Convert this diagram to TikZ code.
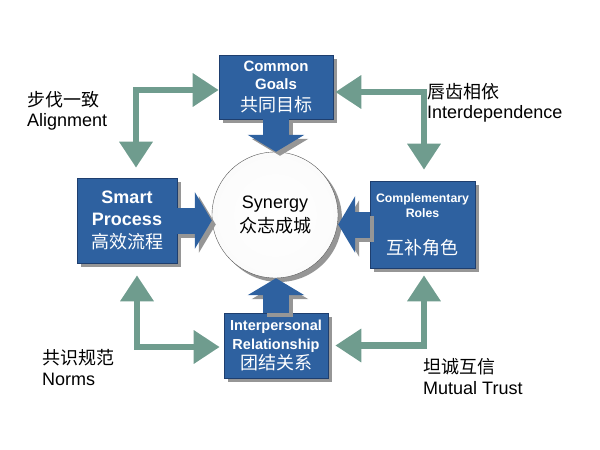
\documentclass[tikz,border=0pt]{standalone}
\usepackage{fontspec}
\setmainfont{Liberation Sans}
\newfontfamily\cjk{Noto Sans CJK SC}
\usetikzlibrary{arrows.meta, shadows}
\definecolor{boxblue}{RGB}{46,97,160}
\definecolor{boxline}{RGB}{30,62,110}
\definecolor{linkgreen}{RGB}{111,156,142}
\definecolor{shadowgray}{RGB}{150,150,150}
\tikzset{
  card/.style  = {draw=boxline, fill=boxblue, text=white, align=center,
                  inner sep=0pt, line width=0.6pt,
                  drop shadow={shadow xshift=4pt, shadow yshift=-4pt,
                               fill=shadowgray, opacity=1}},
  core/.style  = {circle, draw=gray!70!black, inner color=white, outer color=gray!3,
                  align=center, minimum size=126pt, inner sep=0pt,
                  font=\fontsize{18}{24}\selectfont,
                  drop shadow={shadow xshift=4pt, shadow yshift=-4pt,
                               fill=shadowgray, opacity=1}},
  note/.style  = {anchor=west, align=left, inner sep=0pt,
                  font=\fontsize{18}{20.5}\selectfont},
  feed/.style  = {line width=26pt, boxblue,
                  -{Triangle[length=17pt, width=56pt]}},
  feedshade/.style = {feed, shadowgray, transform canvas={shift={(4pt,-4pt)}}},
  link/.style  = {line width=6.5pt, linkgreen,
                  {Triangle[length=26pt, width=32pt]}-{Triangle[length=26pt, width=32pt]}},
}
\newcommand{\zh}[1]{{\fontsize{18}{20}\selectfont\cjk\mdseries #1}}

\begin{document}
\begin{tikzpicture}[x=1pt, y=-1pt]
  \useasboundingbox (0,0) rectangle (600,450);
  % centre
  \node[core] (syn) at (275,215) {Synergy\\\zh{众志成城}};
  % the four blocks
  \node[card, minimum width=114pt, minimum height=64pt,
        font=\fontsize{15}{18}\selectfont\bfseries] (goals) at (276,87)
        {Common\\Goals\\[4pt]\zh{共同目标}};
  \node[card, minimum width=100pt, minimum height=85pt,
        font=\fontsize{18}{22}\selectfont\bfseries] (smart) at (127,220.5)
        {Smart\\Process\\[1pt]\zh{高效流程}};
  \node[card, minimum width=105pt, minimum height=87pt,
        font=\fontsize{12.3}{15}\selectfont\bfseries] (roles) at (422.5,224.5)
        {Complementary\\Roles\\[21pt]\zh{互补角色}};
  \node[card, minimum width=104pt, minimum height=65pt,
        font=\fontsize{14.5}{19}\selectfont\bfseries] (rel) at (276,345.5)
        {Interpersonal\\Relationship\\[0.6pt]\zh{团结关系}};
  % block arrows into the circle
  \foreach \from/\to in {goals.south/goals.south |- syn.north,
                         smart.east/smart.east -| syn.west,
                         roles.west/roles.west -| syn.east,
                         rel.north/rel.north |- syn.south}{
    \draw[feedshade] (\from) -- (\to);
    \draw[feed] (\from) -- (\to);
  }
  % corner links
  \draw[link] ([yshift=-3pt]goals.west) -| ([xshift=9pt,yshift=10pt]smart.north);
  \draw[link] ([xshift=2pt,yshift=-5pt]goals.east) -| ([xshift=1.5pt,yshift=11pt]roles.north);
  \draw[link] ([xshift=10pt,yshift=-12pt]smart.south) |- ([xshift=-4pt,yshift=-1.5pt]rel.west);
  \draw[link] ([xshift=1.5pt,yshift=-7pt]roles.south) |- ([xshift=7pt]rel.east);
  % labels
  \node[note] (align) at (27,110.6) {{\cjk 步伐一致}\\Alignment};
  \node[note] (inter) at (427,103) {{\cjk 唇齿相依}\\Interdependence};
  \node[note] (norms) at (42,367.7) {{\cjk 共识规范}\\Norms};
  \node[note] (trust) at (423,376.7) {{\cjk 坦诚互信}\\Mutual Trust};
\end{tikzpicture}
\end{document}
